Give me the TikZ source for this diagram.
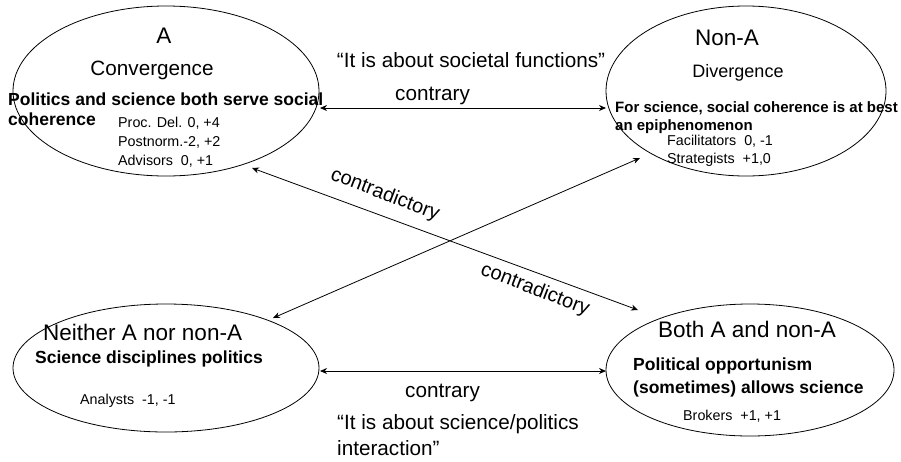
\documentclass[tikz,border=0pt]{standalone}
\usepackage{fontspec}
\setmainfont{Liberation Sans}
\usetikzlibrary{shapes.geometric,arrows.meta}
\tikzset{
  ell/.style={draw, ellipse, inner sep=0pt, line width=0.8pt},
  txt/.style={inner sep=0pt, anchor=base west},
  ctxt/.style={inner sep=0pt, anchor=base},
  fbig/.style={font=\fontsize{22.5}{26}\selectfont},
  fmid/.style={font=\fontsize{20.7}{24}\selectfont},
  fbold/.style={font=\fontsize{17.5}{20}\selectfont\bfseries},
  fboldsm/.style={font=\fontsize{15}{18}\selectfont\bfseries},
  fsmall/.style={font=\fontsize{14.3}{17}\selectfont},
  arr/.style={{Stealth[length=7pt,width=6pt]}-{Stealth[length=7pt,width=6pt]}, line width=0.8pt},
}
\begin{document}
\begin{tikzpicture}[x=1pt,y=-1pt]
\useasboundingbox (0,0) rectangle (901,461);
% ellipses
\node[ell, minimum width=306pt, minimum height=170pt] (A) at (166,91) {};
\node[ell, minimum width=280pt, minimum height=170pt] (N) at (746,91) {};
\node[ell, minimum width=306pt, minimum height=128pt] (E) at (166,368) {};
\node[ell, minimum width=288pt, minimum height=132pt] (B) at (750,370) {};
% A texts
\node[ctxt, fbig] (tA) at (164,43) {A};
\node[ctxt, fmid] (tConv) at (152,75) {Convergence};
\node[txt, fbold] (tPol) at (8,105) {Politics and science both serve social};
\node[txt, fbold] (tCoh) at (8,125) {coherence};
\node[txt, fsmall] (tProc) at (118,127) {Proc. Del. 0, +4};
\node[txt, fsmall] (tPost) at (118,146) {Postnorm.-2, +2};
\node[txt, fsmall] (tAdv) at (118,165) {Advisors\ \ 0, +1};
% Non-A texts
\node[ctxt, fbig] (tNA) at (727,45) {Non-A};
\node[ctxt, font=\fontsize{18}{21}\selectfont] (tDiv) at (738,77) {Divergence};
\node[txt, fboldsm] (tFor) at (615,112) {For science, social coherence is at best};
\node[txt, fboldsm] (tEpi) at (615,130) {an epiphenomenon};
\node[txt, fsmall] (tFac) at (667,145) {Facilitators\ \ 0, -1};
\node[txt, fsmall] (tStr) at (667,163) {Strategists\ \ +1,0};
% Neither texts
\node[txt, fbig] (tNei) at (43,340) {Neither A nor non-A};
\node[txt, fbold] (tSci) at (35,363) {Science disciplines politics};
\node[txt, fsmall] (tAna) at (80,404) {Analysts\ \ -1, -1};
% Both texts
\node[txt, fbig] (tBoth) at (658,337) {Both A and non-A};
\node[txt, fbold] (tPo1) at (633,370) {Political opportunism};
\node[txt, fbold] (tPo2) at (633,393) {(sometimes) allows science};
\node[txt, fsmall] (tBro) at (683,420) {Brokers\ \ +1, +1};
% middle texts
\node[ctxt, fmid] (q1) at (471,67) {“It is about societal functions”};
\node[txt, fmid] (c1) at (395,100) {contrary};
\node[txt, fmid] (c2) at (405,397) {contrary};
\node[txt, fmid] (q2a) at (337,429) {“It is about science/politics};
\node[txt, fmid] (q2b) at (337,455) {interaction”};
\node[inner sep=0pt, fmid, font=\fontsize{20}{24}\selectfont, rotate=-21] (d1) at (385,195) {contradictory};
\node[inner sep=0pt, fmid, font=\fontsize{20}{24}\selectfont, rotate=-21] (d2) at (535,290) {contradictory};
% arrow end points
\coordinate (pA1) at (320,108);
\coordinate (pN1) at (606,108);
\coordinate (pE1) at (320,371);
\coordinate (pB1) at (606,371);
\coordinate (pA2) at (252,168);
\coordinate (pB2) at (638,310);
\coordinate (pE2) at (273,318);
\coordinate (pN2) at (640,158);
\draw[arr] (pA1) -- (pN1);
\draw[arr] (pE1) -- (pB1);
\draw[arr] (pA2) -- (pB2);
\draw[arr] (pE2) -- (pN2);
\end{tikzpicture}
\end{document}
